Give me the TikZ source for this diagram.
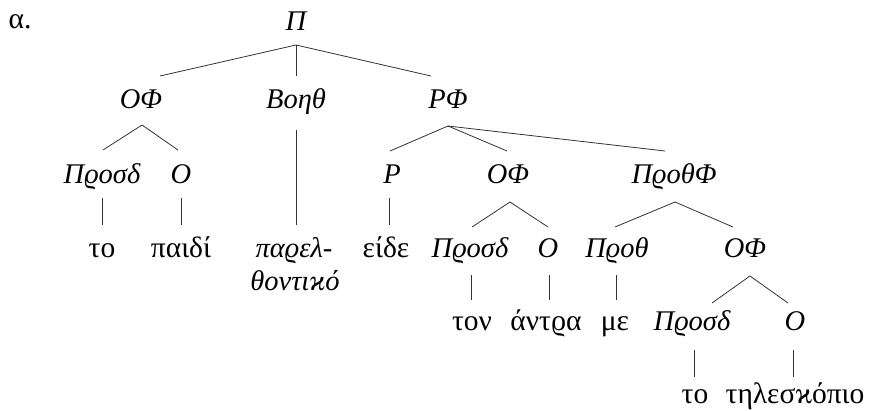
\documentclass[tikz,border=0pt]{standalone}
\usepackage{fontspec}
\setmainfont{Liberation Serif}
\usetikzlibrary{calc}
\begin{document}
\begin{tikzpicture}[x=1pt,y=-1pt,
  lab/.style={anchor=base,inner sep=0pt,font=\fontsize{28.5}{32}\selectfont\itshape},
  wrd/.style={anchor=base,inner sep=0pt,font=\fontsize{29.5}{32}\selectfont},
  br/.style={draw=black!80,line width=0.8pt}]
\useasboundingbox (0,0) rectangle (870,410);
% labels
\node[wrd] (alpha) at (20,28) {α.};
\node[lab] (Pi) at (296,30) {Π};
\node[lab] (OF1) at (141,108) {ΟΦ};
\node[lab] (Boh) at (296,108) {Βοηθ};
\node[lab] (PF) at (448,108) {ΡΦ};
\node[lab] (Pros1) at (102,183) {Πϱοσδ};
\node[lab] (O1) at (181,183) {Ο};
\node[lab] (P) at (392,183) {Ρ};
\node[lab] (OF2) at (508,183) {ΟΦ};
\node[lab] (PthF) at (674,183) {ΠϱοθΦ};
\node[wrd] (to1) at (102,257) {το};
\node[wrd] (paidi) at (181,257) {παιδί};
\node[lab] (parel) at (294,257) {παϱελ-};
\node[lab] (thontiko) at (295,290) {θοντιϰό};
\node[wrd] (eide) at (386,257) {είδε};
\node[lab] (Pros2) at (470,257) {Πϱοσδ};
\node[lab] (O2) at (548,257) {Ο};
\node[lab] (Proth) at (617,257) {Πϱοθ};
\node[lab] (OF3) at (745,257) {ΟΦ};
\node[wrd] (ton) at (472,330) {τον};
\node[wrd] (antra) at (546,330) {άντϱα};
\node[wrd] (me) at (615,330) {με};
\node[lab] (Pros3) at (692,330) {Πϱοσδ};
\node[lab] (O3) at (795,330) {Ο};
\node[wrd] (to2) at (695,403) {το};
\node[wrd] (tele) at (795,403) {τηλεσϰόπιο};
% branches
\coordinate (aPi) at ($(Pi.base)+(0,15)$);
\draw[br] (aPi) -- ($(OF1.base)+(19,-32)$);
\draw[br] (aPi) -- ($(Boh.base)+(0,-32)$);
\draw[br] (aPi) -- ($(PF.base)+(-17,-32)$);
\coordinate (aOF1) at ($(OF1.base)+(1,17)$);
\draw[br] (aOF1) -- ($(Pros1.base)+(1,-33)$);
\draw[br] (aOF1) -- ($(O1.base)+(-3,-33)$);
\coordinate (aPF) at ($(PF.base)+(0,18)$);
\draw[br] (aPF) -- ($(P.base)+(-2,-32)$);
\draw[br] (aPF) -- ($(OF2.base)+(-1,-32)$);
\draw[br] (aPF) -- ($(PthF.base)+(-9,-32)$);
\draw[br] ($(Pros1.base)+(0,15)$) -- ($(to1.base)+(0,-32)$);
\draw[br] ($(O1.base)+(0,15)$) -- ($(paidi.base)+(0,-32)$);
\draw[br] ($(Boh.base)+(0,22)$) -- ($(parel.base)+(2,-32)$);
\draw[br] ($(P.base)+(-3,15)$) -- ($(eide.base)+(3,-32)$);
\coordinate (aOF2) at ($(OF2.base)+(2,19)$);
\draw[br] (aOF2) -- ($(Pros2.base)+(2,-30)$);
\draw[br] (aOF2) -- ($(O2.base)+(0,-30)$);
\coordinate (aPthF) at ($(PthF.base)+(1,19)$);
\draw[br] (aPthF) -- ($(Proth.base)+(-2,-30)$);
\draw[br] (aPthF) -- ($(OF3.base)+(-12,-30)$);
\draw[br] ($(Pros2.base)+(1,18)$) -- ($(ton.base)+(-1,-30)$);
\draw[br] ($(O2.base)+(1,18)$) -- ($(antra.base)+(3,-30)$);
\draw[br] ($(Proth.base)+(-1,18)$) -- ($(me.base)+(1,-30)$);
\coordinate (aOF3) at ($(OF3.base)+(5,19)$);
\draw[br] (aOF3) -- ($(Pros3.base)+(20,-27)$);
\draw[br] (aOF3) -- ($(O3.base)+(-7,-27)$);
\draw[br] ($(Pros3.base)+(2,20)$) -- ($(to2.base)+(-1,-26)$);
\draw[br] ($(O3.base)+(-2,20)$) -- ($(tele.base)+(-2,-26)$);
\end{tikzpicture}
\end{document}
